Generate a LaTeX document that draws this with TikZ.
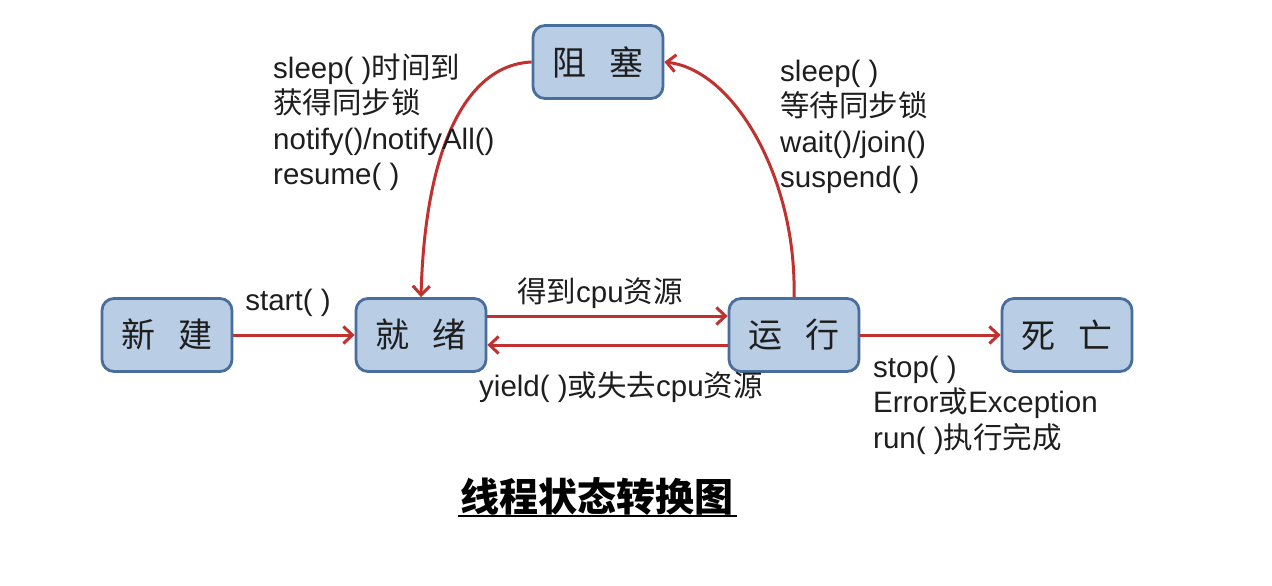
\documentclass[tikz,border=0pt]{standalone}
\usepackage{fontspec}
\setmainfont{Liberation Sans}
\newfontfamily\cjk{Noto Sans CJK SC}
\usetikzlibrary{arrows.meta}
\definecolor{nodefill}{HTML}{B9CDE5}
\definecolor{nodeborder}{HTML}{4A6E9C}
\definecolor{arrred}{HTML}{C0312F}
\definecolor{txt}{HTML}{1E1E1E}
\tikzset{
  state/.style={rounded corners=12pt, fill=nodefill, draw=nodeborder, line width=2.8pt,
    minimum width=130pt, minimum height=73pt, inner sep=0pt, text=txt,
    font=\cjk\fontsize{34}{34}\selectfont},
  arr/.style={draw=arrred, line width=3pt, -{Straight Barb[length=9pt,width=17pt,line width=3pt]}},
  lbl/.style={inner sep=0pt, text=txt, font=\fontsize{29.5}{35.5}\selectfont},
}
\begin{document}
\begin{tikzpicture}[x=1pt,y=-1pt]
\useasboundingbox[fill=white] (0,0) rectangle (1272,586);
\node[state] (zuse) at (598,62) {阻\hspace{0.7em}塞};
\node[state] (xinjian) at (167,335) {新\hspace{0.7em}建};
\node[state] (jiuxu) at (421,335) {就\hspace{0.7em}绪};
\node[state] (yunxing) at (794,335) {运\hspace{0.7em}行};
\node[state] (siwang) at (1067,335) {死\hspace{0.7em}亡};

\draw[arr] (xinjian) -- (jiuxu);
\draw[arr] ([yshift=19pt]jiuxu.east) -- ([yshift=19pt]yunxing.west);
\draw[arr] ([yshift=-10pt]yunxing.west) -- ([yshift=-10pt]jiuxu.west -| jiuxu.east);
\draw[arr] (yunxing) -- (siwang);
\draw[arr] (zuse.west) .. controls (465,65) and (425,150) .. (jiuxu.north);
\draw[arr] (yunxing.north) .. controls (797,180) and (735,70) .. (zuse.east);

\node[lbl] (lstart) at (288,303) {start( )};
\node[lbl] (lget) at (600,293) {{\cjk 得到}cpu{\cjk 资源}};
\node[lbl] (lyield) at (621,387) {yield( ){\cjk 或失去}cpu{\cjk 资源}};
\node[lbl, anchor=west, align=left] (lwake) at (273,122) {sleep( ){\cjk 时间到}\\{\cjk 获得同步锁}\\notify()/notifyAll()\\resume( )};
\node[lbl, anchor=west, align=left] (lblock) at (780,127) {sleep( )\\{\cjk 等待同步锁}\\wait()/join()\\suspend( )};
\node[lbl, anchor=west, align=left] (ldead) at (873,405) {stop( )\\Error{\cjk 或}Exception\\run( ){\cjk 执行完成}};

\node[inner sep=0pt, text=black, font=\cjk\bfseries\fontsize{39}{39}\selectfont] (title) at (597,497) {线程状态转换图};
\draw[line width=2.5pt] (458,516) -- (737,516);
\end{tikzpicture}
\end{document}
